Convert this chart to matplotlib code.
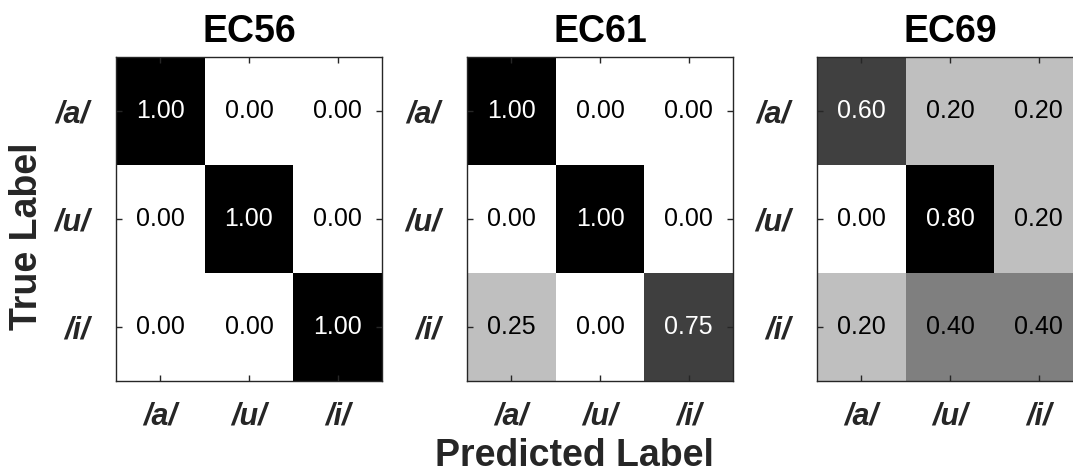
import numpy as np
import matplotlib.pyplot as plt

plt.rcParams["font.family"] = ["Liberation Sans", "DejaVu Sans"]

classes = ["/a/", "/u/", "/i/"]
subjects = ["EC56", "EC61", "EC69"]

ec56 = [[1.00, 0.00, 0.00],
        [0.00, 1.00, 0.00],
        [0.00, 0.00, 1.00]]
ec61 = [[1.00, 0.00, 0.00],
        [0.00, 1.00, 0.00],
        [0.25, 0.00, 0.75]]
ec69 = [[0.60, 0.20, 0.20],
        [0.00, 0.80, 0.20],
        [0.20, 0.40, 0.40]]
matrices = [ec56, ec61, ec69]

label_color = "#262626"
W, H = 1073, 472
fig = plt.figure(figsize=(W / 100, H / 100), dpi=100)

lefts = [116, 467, 817]
ax_w, ax_top, ax_bot = 266, 57, 381

for left, name, cm in zip(lefts, subjects, matrices):
    cm = np.array(cm)
    ax = fig.add_axes([left / W, 1 - ax_bot / H, ax_w / W, (ax_bot - ax_top) / H])
    vmax = cm.max()
    ax.imshow(cm, cmap="gray_r", vmin=0, vmax=vmax, aspect="auto",
              interpolation="nearest")
    for i in range(3):
        for j in range(3):
            v = cm[i, j]
            ax.text(j, i, f"{v:.2f}", ha="center", va="center", fontsize=18,
                    color="white" if v / vmax > 0.5 else "black")
    ax.set_xticks(range(3))
    ax.set_yticks(range(3))
    ax.set_xticklabels(classes, fontsize=22, fontweight="bold", style="italic",
                       color=label_color)
    ax.set_yticklabels(classes, fontsize=22, fontweight="bold", style="italic",
                       color=label_color)
    ax.tick_params(direction="in", length=4, width=1, color=label_color,
                   top=True, right=True)
    ax.tick_params(axis="x", pad=15)
    ax.tick_params(axis="y", pad=19)
    for s in ax.spines.values():
        s.set_color(label_color)
        s.set_linewidth(1)
    ax.set_title(name, fontsize=27, fontweight="bold", pad=11)

fig.text(27 / W, 1 - 236 / H, "True Label", rotation=90, ha="center",
         va="center", fontsize=27, fontweight="bold", color=label_color)
fig.text(574 / W, 1 - 456 / H, "Predicted Label", ha="center", va="center",
         fontsize=27, fontweight="bold", color=label_color)

fig.savefig("out.png", dpi=100)
